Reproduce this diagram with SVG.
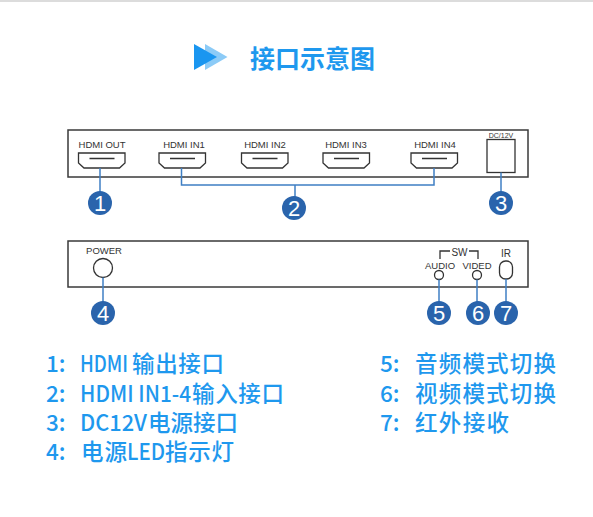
<svg xmlns="http://www.w3.org/2000/svg" width="593" height="517" viewBox="0 0 593 517">
<style>
.panel{fill:#fff;stroke:#3a3a3a;stroke-width:1.5}
.port{fill:none;stroke:#333;stroke-width:1.3}
.lead{fill:none;stroke:#3f7fc4;stroke-width:1.5}
.badge{fill:#2a64ac}
.num{font-family:"Liberation Sans",Arial,sans-serif;font-size:22px;fill:#fff;text-anchor:middle}
.lab{font-family:"Liberation Sans",Arial,sans-serif;font-size:9.500px;fill:#333;text-anchor:middle}
.cn{font-family:"Noto Sans CJK SC","Noto Sans",sans-serif;font-size:22.500px;font-weight:500;fill:#1e98ee}
.title{font-family:"Noto Sans CJK SC",sans-serif;font-size:25px;font-weight:700;fill:#1e98ee}
</style>
<defs>
<path id="hdmi" class="port" d="M0 0H46.500V10L41 15H5.500L0 10Z M11 5.500H36"/>
</defs>
<rect width="593" height="517" fill="#fff"/>
<rect width="593" height="2" fill="#dcdcdc"/>
<g id="heading">
<path d="M205 44L227.500 57L205 70Z" fill="#8ccbf7"/>
<path d="M194 44L217 57L194 70Z" fill="#1a96f0"/>
<text class="title" x="250" y="68">接口示意图</text>
</g>
<g id="panel-top">
<rect class="panel" x="68" y="130" width="460" height="47"/>
</g>
<g id="port-out"><use href="#hdmi" x="78.500" y="153"/><text class="lab" x="102" y="148">HDMI OUT</text></g>
<g id="port-in1"><use href="#hdmi" x="159" y="153"/><text class="lab" x="184" y="148">HDMI IN1</text></g>
<g id="port-in2"><use href="#hdmi" x="241.500" y="153"/><text class="lab" x="265" y="148">HDMI IN2</text></g>
<g id="port-in3"><use href="#hdmi" x="323" y="153"/><text class="lab" x="346" y="148">HDMI IN3</text></g>
<g id="port-in4"><use href="#hdmi" x="411" y="153"/><text class="lab" x="435" y="148">HDMI IN4</text></g>
<g id="port-dc"><rect class="port" x="487" y="139.500" width="28" height="33"/><text class="lab" x="501" y="138" style="font-size:7px">DC/12V</text></g>
<g id="panel-bottom">
<rect class="panel" x="68" y="241" width="460" height="46"/>
</g>
<g id="power"><circle class="port" cx="103" cy="268" r="9.500"/><text class="lab" x="104" y="254">POWER</text></g>
<g id="audio"><circle class="port" cx="439" cy="275" r="4.500"/><text class="lab" x="440" y="269">AUDIO</text></g>
<g id="video"><circle class="port" cx="477" cy="275" r="4.500"/><text class="lab" x="477" y="269">VIDED</text></g>
<g id="sw"><path class="port" d="M440 259V251H450M469 251H478V259"/><text class="lab" x="459.500" y="256" style="font-size:10px">SW</text></g>
<g id="ir"><rect class="port" x="499.500" y="261" width="13" height="18" rx="6"/><text class="lab" x="506" y="257" style="font-size:10px">IR</text></g>
<g id="connectors">
<path class="lead" d="M100 168V192"/>
<path class="lead" d="M181.500 168V185H434V168M295 185V197"/>
<path class="lead" d="M501 172.500V192"/>
<path class="lead" d="M103 277.500V302"/>
<path class="lead" d="M439 279.500V302"/>
<path class="lead" d="M477 279.500V302"/>
<path class="lead" d="M506 279V302"/>
</g>
<g id="badge1"><circle class="badge" cx="100" cy="203" r="12"/><text class="num" x="100" y="211">1</text></g>
<g id="badge2"><circle class="badge" cx="294" cy="208" r="12"/><text class="num" x="294" y="216">2</text></g>
<g id="badge3"><circle class="badge" cx="501" cy="203" r="12"/><text class="num" x="501" y="211">3</text></g>
<g id="badge4"><circle class="badge" cx="103" cy="313" r="12"/><text class="num" x="103" y="321">4</text></g>
<g id="badge5"><circle class="badge" cx="439" cy="313" r="12"/><text class="num" x="439" y="321">5</text></g>
<g id="badge6"><circle class="badge" cx="478" cy="313" r="12"/><text class="num" x="478" y="321">6</text></g>
<g id="badge7"><circle class="badge" cx="506" cy="313" r="12"/><text class="num" x="506" y="321">7</text></g>
<g id="legend">
<text class="cn" x="46" y="372">1:</text><text class="cn" transform="translate(80 372) scale(.83 1)" x="0" y="0">HDMI</text><text class="cn" x="132" y="372" textLength="92">输出接口</text>
<text class="cn" x="46" y="402">2:</text><text class="cn" x="80" y="402" textLength="111" lengthAdjust="spacingAndGlyphs">HDMI IN1-4</text><text class="cn" x="192" y="402" textLength="92">输入接口</text>
<text class="cn" x="46" y="431">3:</text><text class="cn" x="80" y="431" textLength="67" lengthAdjust="spacingAndGlyphs">DC12V</text><text class="cn" x="148" y="431" textLength="90">电源接口</text>
<text class="cn" x="46" y="460">4:</text><text class="cn" x="81" y="460" textLength="46">电源</text><text class="cn" x="127" y="460" textLength="38" lengthAdjust="spacingAndGlyphs">LED</text><text class="cn" x="165" y="460" textLength="69">指示灯</text>
<text class="cn" x="380" y="372">5:</text><text class="cn" x="415" y="372" textLength="141">音频模式切换</text>
<text class="cn" x="380" y="402">6:</text><text class="cn" x="415" y="402" textLength="141">视频模式切换</text>
<text class="cn" x="380" y="431">7:</text><text class="cn" x="415" y="431" textLength="94">红外接收</text>
</g>
</svg>
